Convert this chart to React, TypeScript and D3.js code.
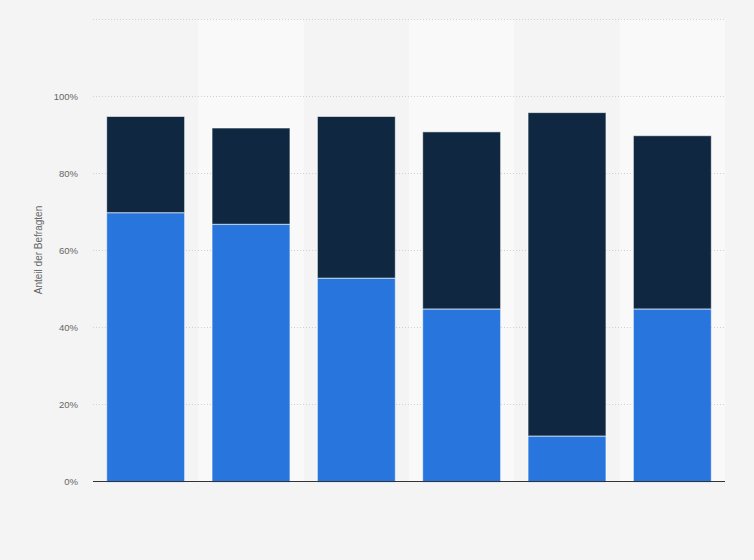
import React from "react";
import * as d3 from "d3";

const categories = ["A", "B", "C", "D", "E", "F"];
const seriesLower = [70, 67, 53, 45, 12, 45];
const seriesUpper = [25, 25, 42, 46, 84, 45];
const yTicks = [0, 20, 40, 60, 80, 100, 120];
const yTickLabels = ["0%", "20%", "40%", "60%", "80%", "100%", ""];
const colors = ["#2876dd", "#0f2740"];

export default function App() {
  const W = 754, H = 560;
  const left = 93, right = 725, top = 19, bottom = 481;
  const x = d3.scaleBand<string>().domain(categories).range([left, right]).paddingInner(0).paddingOuter(0);
  const y = d3.scaleLinear().domain([0, 120]).range([bottom, top]);
  const bw = x.bandwidth();
  const barW = bw * 0.74;
  const inset = 1.2;

  const rows = categories.map((c, i) => ({ c, lower: seriesLower[i], upper: seriesUpper[i] }));
  const stack = d3.stack<any>().keys(["lower", "upper"])(rows);

  return (
    <svg width={W} height={H} style={{ position: "absolute", left: 0, top: 0, display: "block" }}>
      <rect x={0} y={0} width={W} height={H} fill="#f4f4f4" />
      {categories.map((c, i) =>
        i % 2 === 1 ? (
          <rect key={c} x={x(c)} y={top} width={bw} height={bottom - top} fill="#f9f9f9" />
        ) : null
      )}
      {yTicks.map((t) => (
        <line key={t} x1={left} x2={right} y1={Math.round(y(t)) + 0.5} y2={Math.round(y(t)) + 0.5}
          stroke="#d0d0d0" strokeWidth={1} strokeDasharray="1,2" />
      ))}
      {yTicks.map((t, i) => (
        <text key={t} x={78} y={y(t) + 3.5} textAnchor="end" fontFamily="Arial, 'Liberation Sans', sans-serif"
          fontSize={9.5} fill="#666">{yTickLabels[i]}</text>
      ))}
      <text transform={`translate(42,250) rotate(-90)`} textAnchor="middle"
        fontFamily="Arial, 'Liberation Sans', sans-serif" fontSize={10} fill="#666">Anteil der Befragten</text>
      {stack.map((s, si) => (
        <g key={si}>
          {s.map((d: any, i: number) => (
            <rect key={i} x={(x(categories[i]) as number) + (bw - barW) / 2} y={y(d[1]) + inset}
              width={barW} height={y(d[0]) - y(d[1])} fill={colors[si]}
              stroke="#ffffff" strokeOpacity={0.6} strokeWidth={1} />
          ))}
        </g>
      ))}
      <line x1={left} x2={right} y1={bottom + 0.5} y2={bottom + 0.5} stroke="#333" strokeWidth={1.2} />
    </svg>
  );
}
